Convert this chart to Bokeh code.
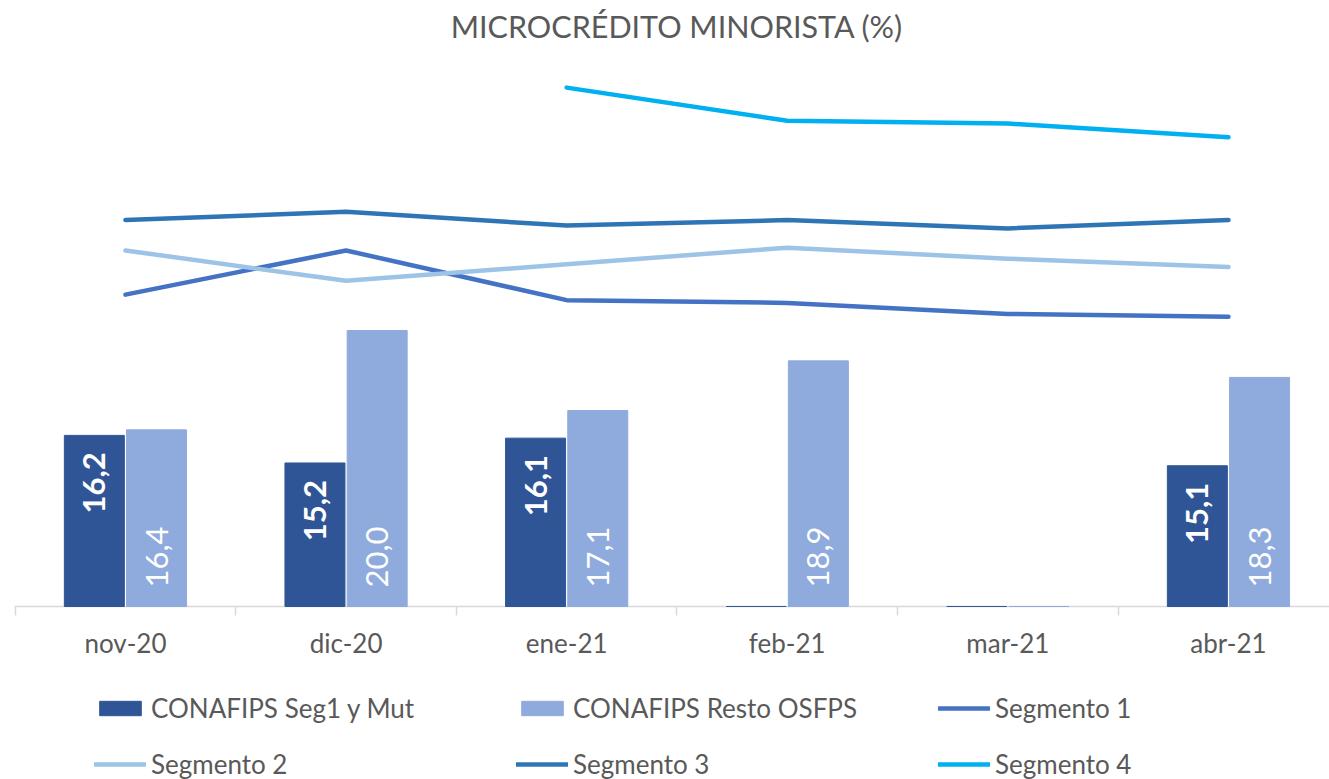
import math
from bokeh.plotting import figure
from bokeh.layouts import column
from bokeh.models import ColumnDataSource, Range1d, FixedTicker, Label, Legend, LegendItem
from bokeh.core.properties import value
from bokeh.transform import dodge
from bokeh.embed import file_html
from bokeh.resources import INLINE

# ---------------- data ----------------
categories = ["nov-20", "dic-20", "ene-21", "feb-21", "mar-21", "abr-21"]
conafips_seg1_mut = [16.2, 15.2, 16.1, 0.0, 0.0, 15.1]
conafips_resto_osfps = [16.4, 20.0, 17.1, 18.9, 0.0, 18.3]
segmento_1 = [21.3, 22.9, 21.1, 21.0, 20.6, 20.5]
segmento_2 = [22.9, 21.8, 22.4, 23.0, 22.6, 22.3]
segmento_3 = [24.0, 24.3, 23.8, 24.0, 23.7, 24.0]
segmento_4 = [float("nan"), float("nan"), 28.8, 27.6, 27.5, 27.0]
series_names = ["CONAFIPS Seg1 y Mut", "CONAFIPS Resto OSFPS", "Segmento 1",
                "Segmento 2", "Segmento 3", "Segmento 4"]
title_text = "MICROCRÉDITO MINORISTA (%)"
y_axis_min = 10.0

# ---------------- style ----------------
FONT = "Lato"
TXT = "#595959"
C_SEG1MUT = "#2F5597"
C_RESTO = "#8FAADC"
C_S1 = "#4472C4"
C_S2 = "#9DC3E6"
C_S3 = "#2E75B6"
C_S4 = "#00B0F0"

W = 1329
H_MAIN = 691
H_LEG = 88
LEFT = 14
PX_PER_CAT = 220.6
PX_PER_UNIT = 27.6
FRAME_H = 606
BOTTOM_BORDER = H_MAIN - FRAME_H

x_start = -0.503
x_end = x_start + (W - LEFT) / PX_PER_CAT
y_end = y_axis_min + FRAME_H / PX_PER_UNIT

p = figure(width=W, height=H_MAIN, output_backend="svg", toolbar_location=None,
           x_range=Range1d(x_start, x_end), y_range=Range1d(y_axis_min, y_end),
           min_border_left=LEFT, min_border_right=0, min_border_top=0,
           min_border_bottom=BOTTOM_BORDER,
           outline_line_color=None, background_fill_color="white", border_fill_color="white")
p.grid.visible = False
p.yaxis.visible = False

idx = list(range(len(categories)))


def bar_source(vals):
    return ColumnDataSource(dict(x=idx, top=[max(v, y_axis_min) for v in vals], val=vals))


src_a = bar_source(conafips_seg1_mut)
src_b = bar_source(conafips_resto_osfps)
BW = 0.272
OFF = 0.141
p.vbar(x=dodge("x", -OFF, range=p.x_range), top="top", bottom=y_axis_min, width=BW,
       source=src_a, fill_color=C_SEG1MUT, line_color=C_SEG1MUT, line_width=1, level="overlay")
p.vbar(x=dodge("x", OFF, range=p.x_range), top="top", bottom=y_axis_min, width=BW,
       source=src_b, fill_color=C_RESTO, line_color=C_RESTO, line_width=1, level="overlay")


def fmt(v):
    return f"{v:.1f}".replace(".", ",")


la = [(i, v) for i, v in zip(idx, conafips_seg1_mut) if v > y_axis_min]
lb = [(i, v) for i, v in zip(idx, conafips_resto_osfps) if v > y_axis_min]
lab_a = ColumnDataSource(dict(x=[i for i, _ in la], y=[v for _, v in la], t=[fmt(v) for _, v in la]))
lab_b = ColumnDataSource(dict(x=[i for i, _ in lb], y=[y_axis_min] * len(lb), t=[fmt(v) for _, v in lb]))
p.text(x=dodge("x", -OFF, range=p.x_range), y="y", text="t", source=lab_a, angle=math.pi / 2,
       text_align="right", text_baseline="middle", y_offset=17, text_color="white",
       text_font=value(FONT), text_font_size="31px", text_font_style="bold", level="overlay")
p.text(x=dodge("x", OFF, range=p.x_range), y="y", text="t", source=lab_b, angle=math.pi / 2,
       text_align="left", text_baseline="middle", y_offset=-19, text_color="white",
       text_font=value(FONT), text_font_size="31px", level="overlay")

LINE_KW = dict(line_width=4.5, line_cap="round", line_join="round")
line_sources = []
for vals, color in [(segmento_1, C_S1), (segmento_2, C_S2), (segmento_3, C_S3), (segmento_4, C_S4)]:
    s = ColumnDataSource(dict(x=idx, y=vals))
    line_sources.append(s)
    p.line("x", "y", source=s, line_color=color, **LINE_KW)

# title
p.add_layout(Label(x=(idx[0] + idx[-1]) / 2, y=y_end - 25 / PX_PER_UNIT, text=title_text,
                   text_align="center", text_baseline="middle", text_font=FONT,
                   text_font_size="30.5px", text_color=TXT))

# x axis
ax = p.xaxis[0]
ax.ticker = FixedTicker(ticks=idx, minor_ticks=[i - 0.5 for i in idx] + [idx[-1] + 0.5])
ax.major_label_overrides = {i: c for i, c in zip(idx, categories)}
ax.major_tick_line_color = None
ax.major_tick_out = 9
ax.major_tick_in = 0
ax.minor_tick_out = 9
ax.minor_tick_in = 0
ax.minor_tick_line_color = "#D9D9D9"
ax.minor_tick_line_width = 1.5
ax.axis_line_color = "#D9D9D9"
ax.axis_line_width = 1.5
ax.major_label_standoff = 11
ax.major_label_text_font = FONT
ax.major_label_text_font_size = "26px"
ax.major_label_text_color = TXT

# ---------------- legend (separate strip; same sources, far outside its visible ranges) ----------------
q = figure(width=W, height=H_LEG, output_backend="svg", toolbar_location=None,
           x_axis_type=None, y_axis_type=None,
           x_range=Range1d(-1000, -999), y_range=Range1d(-1000, -999),
           min_border_left=0, min_border_right=0, min_border_top=0, min_border_bottom=0,
           outline_line_color=None, border_fill_color="white", background_fill_color="white")
g_a = q.vbar(x="x", top="top", bottom=y_axis_min, width=BW, source=src_a,
             fill_color=C_SEG1MUT, line_color=C_SEG1MUT)
g_b = q.vbar(x="x", top="top", bottom=y_axis_min, width=BW, source=src_b,
             fill_color=C_RESTO, line_color=C_RESTO)
g_lines = [q.line("x", "y", source=s, line_color=c, **LINE_KW)
           for s, c in zip(line_sources, [C_S1, C_S2, C_S3, C_S4])]
rend = [g_a, g_b] + g_lines
items = [LegendItem(label=n, renderers=[r]) for n, r in zip(series_names, rend)]
# legend fills column by column: reorder so rows read like the original
order = [0, 3, 1, 4, 2, 5]
legend = Legend(items=[items[i] for i in order],
                ncols=3, location=(80, -1), glyph_width=52, glyph_height=18, label_standoff=5,
                label_width=341, spacing=24, padding=0, margin=0, border_line_color=None,
                background_fill_alpha=0, label_text_font=FONT, label_text_font_size="26px",
                label_text_color=TXT, label_height=26)
q.add_layout(legend, "center")

layout = column(p, q, spacing=0)
open("out.html", "w").write(file_html(layout, INLINE))
